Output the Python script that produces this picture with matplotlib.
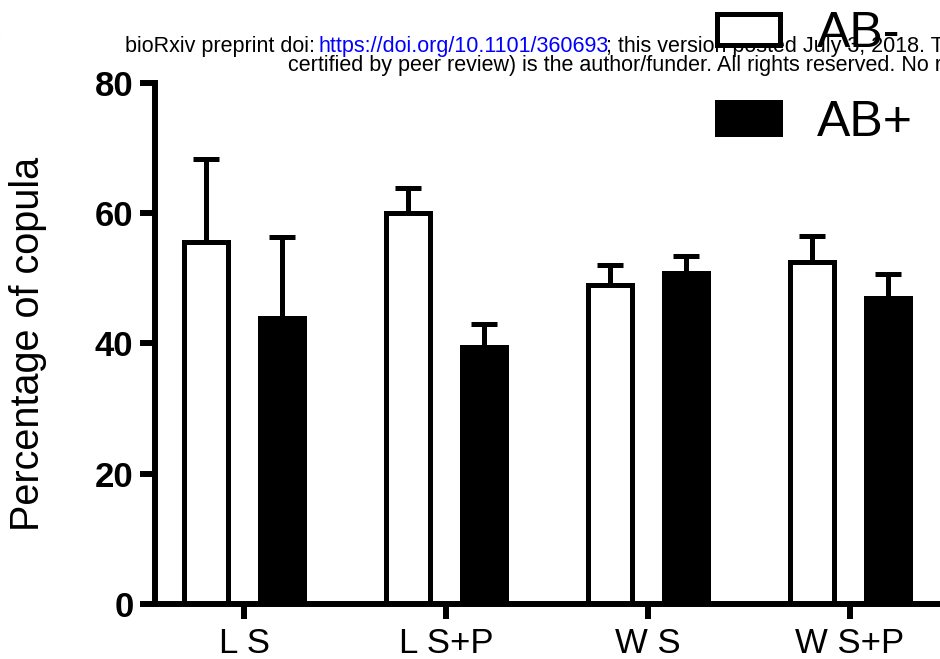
import matplotlib
import numpy as np

matplotlib.use("Agg")
import matplotlib.pyplot as plt
from matplotlib.patches import Patch

plt.rcParams["font.family"] = ["Liberation Sans", "DejaVu Sans"]

groups = ["L S", "L S+P", "W S", "W S+P"]
ab_neg = [55.6, 60.1, 49.0, 52.5]
ab_neg_err = [12.8, 3.8, 3.0, 4.0]
ab_pos = [43.9, 39.5, 50.8, 47.0]
ab_pos_err = [12.5, 3.5, 2.7, 3.7]
series_labels = ["AB-", "AB+"]
y_ticks = [0, 20, 40, 60, 80]

LW = 3.6
fig = plt.figure(figsize=(9.4, 6.59), dpi=100)
ax = fig.add_axes([0.1649, 0.0835, 0.8351, 0.7906])

x = np.arange(len(groups))
offset = 0.188
width = 0.215

ax.bar(x - offset, ab_neg, width, color="white", edgecolor="black", linewidth=LW, zorder=2)
ax.bar(x + offset, ab_pos, width, color="black", edgecolor="black", linewidth=LW, zorder=2)
for xs, vals, errs in [(x - offset, ab_neg, ab_neg_err), (x + offset, ab_pos, ab_pos_err)]:
    ax.errorbar(xs, vals, yerr=[np.zeros(len(errs)), errs], fmt="none", ecolor="black",
                elinewidth=LW, capsize=9.5, capthick=LW, zorder=1)

ax.set_xlim(-0.4406, 3.4455)
ax.set_ylim(0, 80)
ax.set_xticks(x)
ax.set_xticklabels(groups, fontsize=25)
ax.set_yticks(y_ticks)
ax.set_yticklabels([str(t) for t in y_ticks], fontsize=25, fontweight="bold")
ax.tick_params(axis="both", width=4.3, length=10.5, color="black")
ax.tick_params(axis="y", pad=5)
ax.tick_params(axis="x", pad=6)
for side in ["top", "right"]:
    ax.spines[side].set_visible(False)
for side in ["left", "bottom"]:
    ax.spines[side].set_linewidth(4.3)
ax.set_ylabel("Percentage of copula", fontsize=28.5)
ax.yaxis.set_label_coords(-0.137, 0.5)

handles = [Patch(facecolor="white", edgecolor="black", linewidth=LW),
           Patch(facecolor="black", edgecolor="black", linewidth=LW)]
fig.legend(handles, series_labels, loc="upper left", bbox_to_anchor=(0.763, 0.983),
           frameon=False, fontsize=36, handlelength=1.25, handleheight=0.6,
           handletextpad=0.75, labelspacing=0.85, borderaxespad=0, borderpad=0)

# bioRxiv watermark lines and cut-off panel label
fig.text(-0.026, 0.947, "A", fontsize=25, fontweight="bold", va="baseline")
fig.text(125 / 940, 1 - 52 / 659, "bioRxiv preprint doi: ", fontsize=15.5, va="baseline")
fig.text(318 / 940, 1 - 52 / 659, "https://doi.org/10.1101/360693", fontsize=15.5,
         color="blue", va="baseline")
fig.text(606 / 940, 1 - 52 / 659,
         "; this version posted July 3, 2018. The copyright holder for this preprint (which was not",
         fontsize=15.5, va="baseline")
fig.text(288 / 940, 1 - 71 / 659,
         "certified by peer review) is the author/funder. All rights reserved. No reuse allowed without permission.",
         fontsize=15.5, va="baseline")

fig.savefig("out.png", dpi=100)
